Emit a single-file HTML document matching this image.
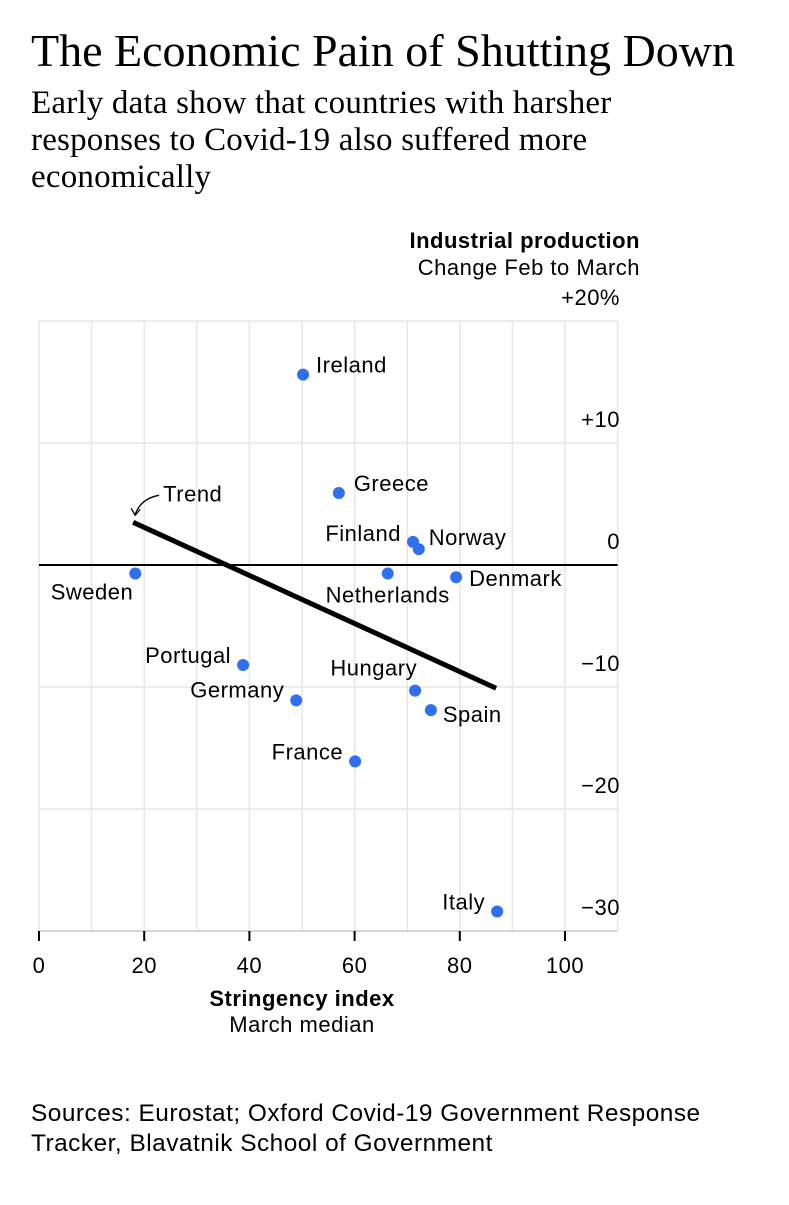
<!DOCTYPE html>
<html><head><meta charset="utf-8"><style>
body{margin:0;background:#fff;width:789px;height:1200px;overflow:hidden;font-family:"Liberation Sans",sans-serif}
svg text{font-family:"Liberation Sans",sans-serif;letter-spacing:0.5px}
</style></head><body>
<svg width="789" height="1200">
<text x="31" y="66" font-size="46" fill="#000" style="font-family:'Liberation Serif',serif;letter-spacing:0">The Economic Pain of Shutting Down</text>
<g font-size="33" fill="#000">
<text x="31" y="113" style="font-family:'Liberation Serif',serif;letter-spacing:0.2px">Early data show that countries with harsher</text>
<text x="31" y="150" style="font-family:'Liberation Serif',serif;letter-spacing:0.2px">responses to Covid-19 also suffered more</text>
<text x="31" y="187" style="font-family:'Liberation Serif',serif;letter-spacing:0.2px">economically</text>
</g>
<text x="640" y="248" text-anchor="end" font-size="22" font-weight="bold">Industrial production</text>
<text x="640" y="275" text-anchor="end" font-size="22">Change Feb to March</text>
<g id="grid"></g><g id="ylabels" font-size="22"></g><g id="xlabels" font-size="22"></g>
<g id="trend"></g><g id="points"></g><g id="plabels" font-size="22"></g>
<text x="302" y="1006" text-anchor="middle" font-size="22" font-weight="bold">Stringency index</text>
<text x="302" y="1032" text-anchor="middle" font-size="22">March median</text>
<g font-size="24.4">
<text x="31" y="1121">Sources: Eurostat; Oxford Covid-19 Government Response</text>
<text x="31" y="1151">Tracker, Blavatnik School of Government</text>
</g>
</svg>
<script>
const countries=["Ireland","Greece","Finland","Norway","Sweden","Netherlands","Denmark","Portugal","Germany","Hungary","Spain","France","Italy"];
const stringency=[50.2,57,71.1,72.2,18.3,66.3,79.3,38.8,48.9,71.5,74.5,60.1,87.1];
const production=[15.6,5.9,1.9,1.3,-0.7,-0.7,-1.0,-8.2,-11.1,-10.3,-11.9,-16.1,-28.4];
const trendX=[17.9,86.9];
const trendY=[3.5,-10.1];
const xTicks=[0,20,40,60,80,100];
const yTicks=[20,10,0,-10,-20,-30];
const yTickLabels=["+20%","+10","0","\u221210","\u221220","\u221230"];
const sx=v=>39+v*5.26, sy=v=>565-v*12.2;
const NS="http://www.w3.org/2000/svg";
function mk(t,a,p){const e=document.createElementNS(NS,t);for(const k in a)e.setAttribute(k,a[k]);p.appendChild(e);return e;}
const grid=document.getElementById('grid');
for(let v=0;v<=110;v+=10){const l=mk('line',{x1:sx(v),x2:sx(v),y1:sy(20),y2:sy(-30),stroke:'#e6e6e6','stroke-width':1.5},grid);

}
yTicks.forEach((v,i)=>{const l=mk('line',{x1:39,x2:sx(110),y1:sy(v),y2:sy(v),stroke:v===0?'#000':'#e6e6e6','stroke-width':v===0?2:1.5},grid);


const t=mk('text',{x:620,y:sy(v)-16,'text-anchor':'end'},document.getElementById('ylabels'));t.textContent=yTickLabels[i];

});
mk('line',{x1:39,x2:sx(110),y1:sy(-30),y2:sy(-30),stroke:'#ccc','stroke-width':1.5},grid);
xTicks.forEach(v=>{const l=mk('line',{x1:sx(v),x2:sx(v),y1:sy(-30),y2:sy(-30)+10,stroke:'#000','stroke-width':2},grid);


const t=mk('text',{x:sx(v),y:sy(-30)+42,'text-anchor':'middle'},document.getElementById('xlabels'));t.textContent=v;

});
const tr=document.getElementById('trend');
const tl=mk('line',{x1:sx(trendX[0]),y1:sy(trendY[0]),x2:sx(trendX[1]),y2:sy(trendY[1]),stroke:'#000','stroke-width':5},tr);


const tx=sx(trendX[0]),ty=sy(trendY[0]);
const ta=mk('path',{d:`M${tx+26},${ty-27} Q${tx+8},${ty-24} ${tx+2},${ty-8} M${tx-2},${ty-14} L${tx+2},${ty-7} L${tx+7},${ty-13}`,fill:'none',stroke:'#000','stroke-width':1.3},tr);


const tt=mk('text',{x:tx+30,y:ty-21,'font-size':22},tr);tt.textContent='Trend';


const off={Ireland:[13,-2,'start'],Greece:[15,-2,'start'],Finland:[-12,-1,'end'],Norway:[10,-4,'start'],Sweden:[-2,26,'end'],Netherlands:[0,29,'middle'],Denmark:[13,9,'start'],Portugal:[-12,-2,'end'],Germany:[-12,-3,'end'],Hungary:[2,-15,'end'],Spain:[12,12,'start'],France:[-12,-2,'end'],Italy:[-12,-2,'end']};
countries.forEach((c,i)=>{const x=sx(stringency[i]),y=sy(production[i]);
const p=mk('circle',{cx:x,cy:y,r:6,fill:'#2f6ff0'},document.getElementById('points'));


const o=off[c];const t=mk('text',{x:x+o[0],y:y+o[1],'text-anchor':o[2]},document.getElementById('plabels'));t.textContent=c;

});
</script>
</body></html>
